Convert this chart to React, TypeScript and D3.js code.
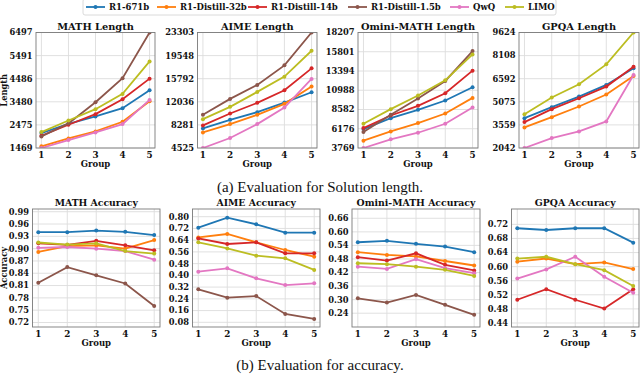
import React from "react";
import * as d3 from "d3";

// models and colours (legend order)
const models = ["R1-671b", "R1-Distill-32b", "R1-Distill-14b", "R1-Distill-1.5b", "QwQ", "LIMO"];
const colors = ["#1f77b4", "#ff7f0e", "#d62728", "#8c564b", "#e377c2", "#bcbd22"];
const groups = [1, 2, 3, 4, 5];

// (a) solution length, one row per model
const mathLength = [
  [2119, 2524, 2842, 3203, 3983],
  [1541, 1888, 2191, 2610, 3506],
  [2004, 2480, 2943, 3593, 4489],
  [1975, 2540, 3460, 4505, 6497],
  [1469, 1816, 2148, 2509, 3564],
  [2163, 2668, 3159, 3824, 5240],
];
const aimeLength = [
  [7709, 9112, 10353, 11917, 13590],
  [7061, 8410, 9921, 11702, 14507],
  [8194, 10137, 11863, 13914, 17475],
  [9921, 12511, 14777, 17961, 23303],
  [4525, 6144, 8410, 11108, 15749],
  [9219, 11216, 13644, 16126, 20335],
];
const ominiLength = [
  [6134, 7503, 8540, 9702, 11361],
  [4682, 5843, 6881, 8084, 10034],
  [6258, 7835, 9038, 10615, 13436],
  [5760, 7918, 9951, 12150, 15884],
  [3769, 4848, 5677, 6798, 8831],
  [6798, 8623, 10324, 12233, 15469],
];
const gpqaLength = [
  [4003, 4722, 5419, 6182, 7271],
  [3393, 4068, 4765, 5550, 6770],
  [3741, 4591, 5310, 6073, 7380],
  null,
  [2042, 2696, 3131, 3785, 6835],
  [4264, 5354, 6225, 7532, 9624],
];

// (b) accuracy
const mathAcc = [
  [0.94, 0.94, 0.944, 0.941, 0.933],
  [0.892, 0.906, 0.908, 0.9, 0.921],
  [0.913, 0.909, 0.919, 0.908, 0.896],
  [0.817, 0.855, 0.835, 0.815, 0.76],
  [0.902, 0.904, 0.9, 0.894, 0.873],
  [0.915, 0.91, 0.913, 0.894, 0.888],
];
const aimeAcc = [
  [0.725, 0.793, 0.748, 0.691, 0.691],
  [0.659, 0.682, 0.625, 0.573, 0.527],
  [0.652, 0.614, 0.625, 0.55, 0.55],
  [0.305, 0.248, 0.259, 0.137, 0.103],
  [0.425, 0.448, 0.38, 0.334, 0.346],
  [0.625, 0.584, 0.534, 0.516, 0.437],
];
const ominiAcc = [
  [0.554, 0.56, 0.547, 0.535, 0.51],
  [0.51, 0.498, 0.491, 0.471, 0.451],
  [0.488, 0.473, 0.505, 0.454, 0.429],
  [0.306, 0.287, 0.321, 0.277, 0.233],
  [0.446, 0.436, 0.479, 0.439, 0.417],
  [0.461, 0.457, 0.446, 0.432, 0.405],
];
const gpqaAcc = [
  [0.709, 0.704, 0.709, 0.709, 0.668],
  [0.614, 0.623, 0.607, 0.612, 0.593],
  [0.506, 0.536, 0.506, 0.481, 0.536],
  null,
  [0.566, 0.592, 0.628, 0.571, 0.526],
  [0.623, 0.628, 0.607, 0.59, 0.545],
];

// tick labels
const mathLenTicks = ["1469", "2475", "3480", "4486", "5491", "6497"];
const aimeLenTicks = ["4525", "8281", "12036", "15792", "19548", "23303"];
const ominiLenTicks = ["3769", "6176", "8582", "10988", "13394", "15801", "18207"];
const gpqaLenTicks = ["2042", "3559", "5075", "6592", "8108", "9624"];
const mathAccTicks = [0.72, 0.75, 0.78, 0.81, 0.84, 0.87, 0.9, 0.93, 0.96, 0.99];
const aimeAccTicks = [0.08, 0.16, 0.24, 0.32, 0.4, 0.48, 0.56, 0.64, 0.72, 0.8];
const ominiAccTicks = [0.24, 0.3, 0.36, 0.42, 0.48, 0.54, 0.6, 0.66];
const gpqaAccTicks = [0.44, 0.48, 0.52, 0.56, 0.6, 0.64, 0.68, 0.72];

const FONT = "'DejaVu Serif', serif";
const TICK = 8.3;

type Panel = {
  title: string;
  data: (number[] | null)[];
  ticks: number[];
  labels: string[];
  domain: [number, number];
  x0: number;
  x1: number;
  y0: number;
  y1: number;
  ylabel?: string;
};

const topY: [number, number] = [32.5, 148];
const botY: [number, number] = [209, 327];

const lenPanel = (title: string, data: (number[] | null)[], labels: string[], x0: number, x1: number, ylabel?: string): Panel => {
  const t = labels.map(Number);
  return { title, data, ticks: t, labels, domain: [t[0], t[t.length - 1]], x0, x1, y0: topY[0], y1: topY[1], ylabel };
};
const accPanel = (title: string, data: (number[] | null)[], ticks: number[], domain: [number, number], x0: number, x1: number, ylabel?: string): Panel => ({
  title, data, ticks, labels: ticks.map((d) => d.toFixed(2)), domain, x0, x1, y0: botY[0], y1: botY[1], ylabel,
});

const panels: Panel[] = [
  lenPanel("MATH Length", mathLength, mathLenTicks, 36, 155, "Length"),
  lenPanel("AIME Length", aimeLength, aimeLenTicks, 197.5, 317),
  lenPanel("Omini-MATH Length", ominiLength, ominiLenTicks, 358, 478),
  lenPanel("GPQA Length", gpqaLength, gpqaLenTicks, 519, 639),
  accPanel("MATH Accuracy", mathAcc, mathAccTicks, [0.709, 0.9966], 32.5, 160, "Accuracy"),
  accPanel("AIME Accuracy", aimeAcc, aimeAccTicks, [0.048, 0.8525], 192.5, 320),
  accPanel("Omini-MATH Accuracy", ominiAcc, ominiAccTicks, [0.179, 0.701], 352, 480),
  accPanel("GPQA Accuracy", gpqaAcc, gpqaAccTicks, [0.4286, 0.7636], 511.5, 639),
];

const ChartPanel = ({ p, id }: { p: Panel; id: number }) => {
  const x = d3.scaleLinear().domain([0.8, 5.2]).range([p.x0, p.x1]);
  const y = d3.scaleLinear().domain(p.domain).range([p.y1, p.y0]);
  const line = d3
    .line<number>()
    .x((_, i) => x(groups[i]))
    .y((d) => y(d));
  const cx = (p.x0 + p.x1) / 2;
  return (
    <g>
      <defs>
        <clipPath id={`clip${id}`}>
          <rect x={p.x0} y={p.y0} width={p.x1 - p.x0} height={p.y1 - p.y0} />
        </clipPath>
      </defs>
      {p.ticks.map((t, i) => (
        <line key={"gy" + i} x1={p.x0} x2={p.x1} y1={y(t)} y2={y(t)} stroke="#dcdcdc" strokeWidth={0.9} />
      ))}
      {groups.map((g) => (
        <line key={"gx" + g} x1={x(g)} x2={x(g)} y1={p.y0} y2={p.y1} stroke="#dcdcdc" strokeWidth={0.9} />
      ))}
      <g clipPath={`url(#clip${id})`}>
        {p.data.map((row, k) =>
          row ? (
            <g key={k}>
              <path d={line(row) || ""} fill="none" stroke={colors[k]} strokeWidth={1.8} />
              {row.map((v, i) => (
                <circle key={i} cx={x(groups[i])} cy={y(v)} r={2} fill={colors[k]} />
              ))}
            </g>
          ) : null
        )}
      </g>
      <rect x={p.x0} y={p.y0} width={p.x1 - p.x0} height={p.y1 - p.y0} fill="none" stroke="#7a7a7a" strokeWidth={0.9} />
      {p.ticks.map((t, i) => (
        <text key={"ty" + i} x={p.x0 - 3.5} y={y(t)} dy="0.35em" textAnchor="end" fontSize={TICK} fontWeight="bold" fontFamily={FONT} fill="#111">
          {p.labels[i]}
        </text>
      ))}
      {groups.map((g) => (
        <text key={"tx" + g} x={x(g)} y={p.y1 + 10} textAnchor="middle" fontSize={8.8} fontWeight="bold" fontFamily={FONT} fill="#111">
          {g}
        </text>
      ))}
      <text x={cx} y={p.y1 + 18.5} textAnchor="middle" fontSize={8.5} fontWeight="bold" fontFamily={FONT} fill="#111">
        Group
      </text>
      <text x={cx} y={p.y0 - 3} textAnchor="middle" fontSize={p.y0 < 100 ? 9.8 : 9.3} fontWeight="bold" fontFamily={FONT} fill="#111">
        {p.title}
      </text>
      {p.ylabel && (
        <text transform={`translate(6.5,${(p.y0 + p.y1) / 2}) rotate(-90)`} textAnchor="middle" fontSize={8.3} fontWeight="bold" fontFamily={FONT} fill="#111">
          {p.ylabel}
        </text>
      )}
    </g>
  );
};

const legendX = [86, 157, 248, 348, 450, 505];

const App = () => (
  <svg width={640} height={374} style={{ position: "absolute", left: 0, top: 0, background: "#fff" }}>
    <rect x={83} y={-1} width={473} height={16} rx={2} fill="#fff" stroke="#d0d0d0" strokeWidth={0.8} />
    {models.map((m, k) => (
      <g key={m}>
        <line x1={legendX[k]} x2={legendX[k] + 19} y1={7} y2={7} stroke={colors[k]} strokeWidth={1.8} />
        <circle cx={legendX[k] + 9.5} cy={7} r={2} fill={colors[k]} />
        <text x={legendX[k] + 23} y={7} dy="0.35em" fontSize={8.5} fontWeight="bold" fontFamily={FONT} fill="#111">
          {m}
        </text>
      </g>
    ))}
    {panels.map((p, i) => (
      <ChartPanel key={i} p={p} id={i} />
    ))}
    <text x={320} y={192} textAnchor="middle" fontSize={15} fontFamily="'Liberation Serif', serif" fill="#111">
      (a) Evaluation for Solution length.
    </text>
    <text x={320} y={370} textAnchor="middle" fontSize={15} fontFamily="'Liberation Serif', serif" fill="#111">
      (b) Evaluation for accuracy.
    </text>
  </svg>
);

export default App;
